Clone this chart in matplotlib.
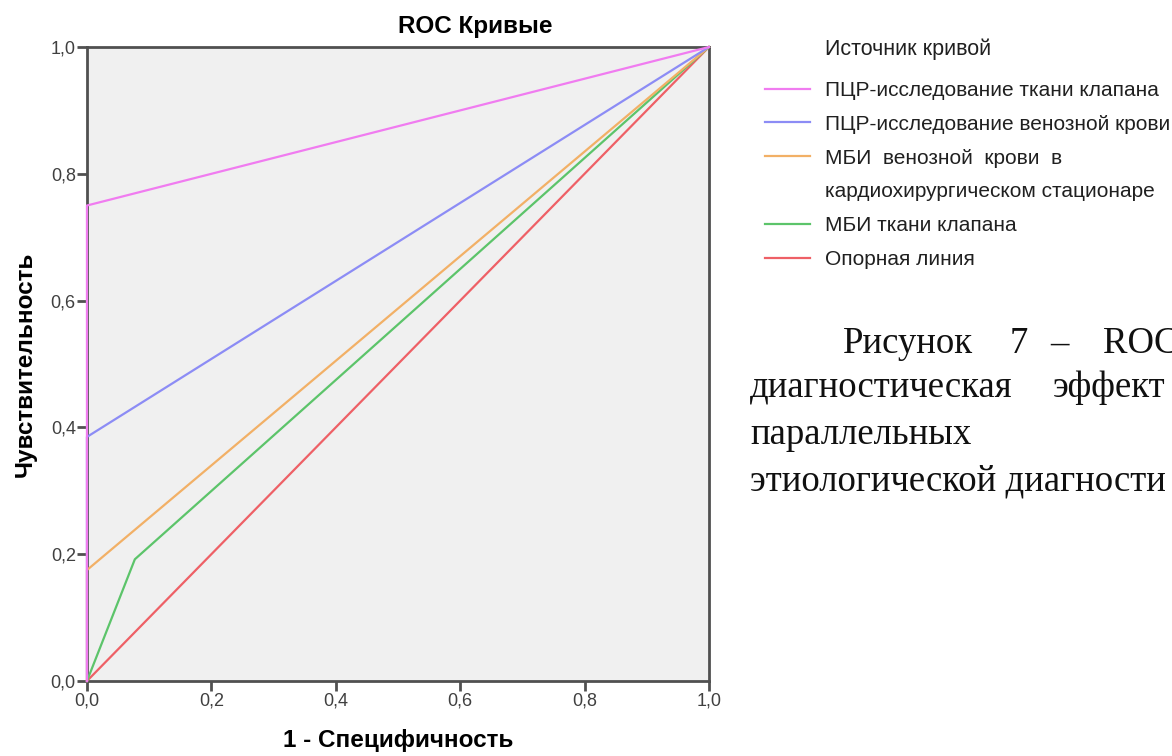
import matplotlib.pyplot as plt
from matplotlib.lines import Line2D

# ROC curve points (1 - specificity, sensitivity)
fpr_pcr_valve = [0.0, 0.0, 1.0]
tpr_pcr_valve = [0.0, 0.75, 1.0]
fpr_pcr_blood = [0.0, 0.0, 1.0]
tpr_pcr_blood = [0.0, 0.385, 1.0]
fpr_mbi_blood = [0.0, 0.0, 1.0]
tpr_mbi_blood = [0.0, 0.175, 1.0]
fpr_mbi_valve = [0.0, 0.077, 1.0]
tpr_mbi_valve = [0.0, 0.192, 1.0]
fpr_ref = [0.0, 1.0]
tpr_ref = [0.0, 1.0]

ticks = [0.0, 0.2, 0.4, 0.6, 0.8, 1.0]
tick_labels = ["0,0", "0,2", "0,4", "0,6", "0,8", "1,0"]

legend_labels = [
    "ПЦР-исследование ткани клапана",
    "ПЦР-исследование венозной крови",
    "МБИ  венозной  крови  в",
    "кардиохирургическом стационаре",
    "МБИ ткани клапана",
    "Опорная линия",
]

plt.rcParams["font.family"] = ["Liberation Sans", "DejaVu Sans"]

fig = plt.figure(figsize=(11.72, 7.56), dpi=100)
ax = fig.add_axes([0.0742, 0.0992, 0.5307, 0.8386])
ax.set_facecolor("#f0f0f0")

c_pink = "#f07cf0"
c_blue = "#8c8cf5"
c_orange = "#f2b066"
c_green = "#5cc46a"
c_red = "#ee6066"

lw = 1.6
l_ref, = ax.plot(fpr_ref, tpr_ref, color=c_red, lw=lw, zorder=3, clip_on=False)
l_mv, = ax.plot(fpr_mbi_valve, tpr_mbi_valve, color=c_green, lw=lw, zorder=3, clip_on=False)
l_mb, = ax.plot(fpr_mbi_blood, tpr_mbi_blood, color=c_orange, lw=lw, zorder=3, clip_on=False)
l_pb, = ax.plot(fpr_pcr_blood, tpr_pcr_blood, color=c_blue, lw=lw, zorder=3, clip_on=False)
l_pv, = ax.plot(fpr_pcr_valve, tpr_pcr_valve, color=c_pink, lw=lw, zorder=3, clip_on=False)

ax.set_xlim(0, 1)
ax.set_ylim(0, 1)
ax.set_xticks(ticks)
ax.set_xticklabels(tick_labels)
ax.set_yticks(ticks)
ax.set_yticklabels(tick_labels)
for s in ax.spines.values():
    s.set_color("#505050")
    s.set_linewidth(2)
    s.set_zorder(2.5)
ax.tick_params(direction="out", length=7, width=2, color="#505050",
               labelsize=13, labelcolor="#404040", pad=1)

ax.set_xlabel("1 - Специфичность", fontsize=17.5, fontweight="bold", labelpad=14)
ax.set_ylabel("Чувствительность", fontsize=17.5, fontweight="bold", labelpad=10)
fig.text(475 / 1172, 1 - 26 / 756, "ROC Кривые", fontsize=17.5, fontweight="bold",
         ha="center", va="center")

# legend
blank = Line2D([], [], color="none")
handles = [l_pv, l_pb, l_mb, blank, l_mv, l_ref]
fig.text(825 / 1172, 1 - 49 / 756, "Источник кривой", fontsize=15.5,
         ha="left", va="center", color="#202020")
fig.legend(handles, legend_labels, loc="upper left",
           bbox_to_anchor=(765 / 1172, 1 - 81 / 756), frameon=False,
           borderaxespad=0, borderpad=0,
           prop={"size": 15}, handlelength=2.15,
           handletextpad=0.72, labelspacing=0.71, labelcolor="#202020")

# caption text (cut at right edge, as in the source page)
serif = ["Liberation Serif", "DejaVu Serif"]
cap = [
    (843, 353, "Рисунок"), (1010, 353, "7"), (1050, 353, "–"), (1103, 353, "ROC"),
    (750, 397, "диагностическая"), (1053, 397, "эффект"),
    (750, 444, "параллельных"),
    (750, 491, "этиологической диагности"),
]
for x, y, t in cap:
    fig.text(x / 1172, 1 - y / 756, t, fontsize=26.5, family=serif,
             ha="left", va="baseline", color="#101010")

fig.savefig("out.png", dpi=100)
